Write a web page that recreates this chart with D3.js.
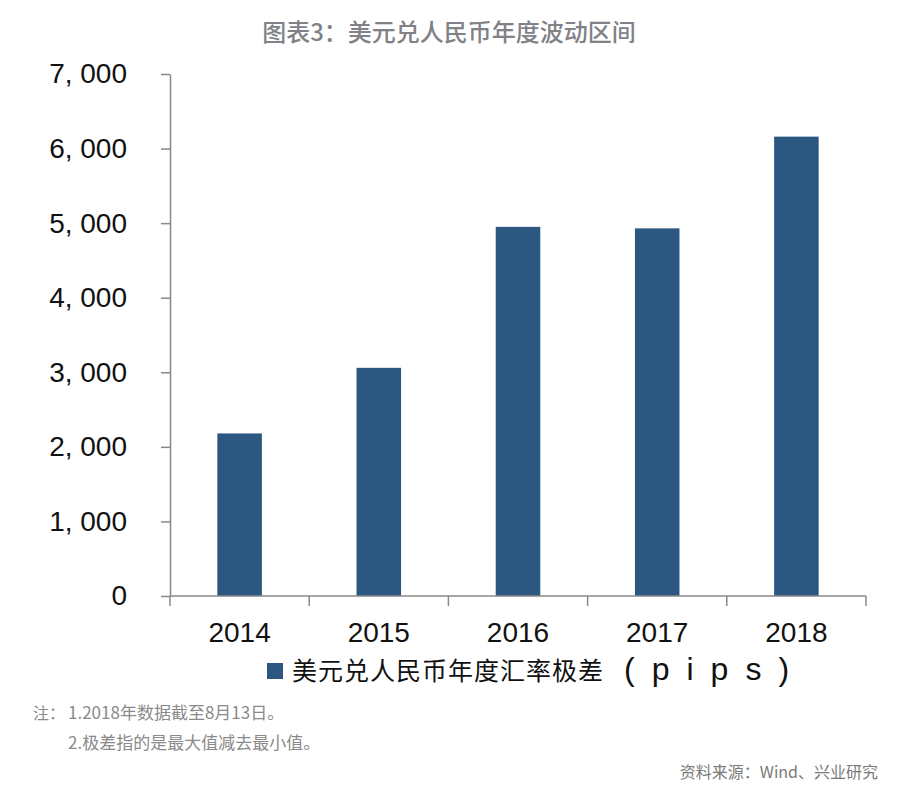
<!DOCTYPE html>
<html>
<head>
<meta charset="utf-8">
<script src="https://cdn.jsdelivr.net/npm/d3@7"></script>
<style>
  body { margin: 0; background: #fff; }
  svg { display: block; }
</style>
</head>
<body>
<div id="container"></div>
<script>
const years       = ["2014", "2015", "2016", "2017", "2018"];
const rangePips   = [2180, 3060, 4950, 4930, 6160];
const yTicks      = [0, 1000, 2000, 3000, 4000, 5000, 6000, 7000];
const yTickLabels = ["0", "1, 000", "2, 000", "3, 000", "4, 000", "5, 000", "6, 000", "7, 000"];
const titleText   = "图表3：美元兑人民币年度波动区间";
const legendText  = "美元兑人民币年度汇率极差";
const legendUnit  = "(pips)";
const notes       = ["注：", "1.2018年数据截至8月13日。", "2.极差指的是最大值减去最小值。"];
const sourceText  = "资料来源：Wind、兴业研究";

const width = 900, height = 793;
const margin = { top: 74, right: 34, bottom: 197, left: 170 };
const barColor  = "#2b5780";
const axisColor = "#888";
const sans = "'Liberation Sans', Arial, sans-serif";
const cjk  = "'Noto Sans CJK SC', 'Noto Sans', sans-serif";

const svg = d3.select("#container")
  .append("svg")
    .attr("width", width)
    .attr("height", height);

// x = one band per year, ticks at band edges
const x = d3.scaleBand()
  .domain(years)
  .range([margin.left, width - margin.right])
  .paddingInner(0.68)
  .paddingOuter(0.34);

const y = d3.scaleLinear()
  .domain([0, 7000])
  .range([height - margin.bottom, margin.top]);

// title
svg.append("text")
  .attr("x", 449)
  .attr("y", 41)
  .attr("text-anchor", "middle")
  .attr("font-family", cjk)
  .attr("font-size", 24)
  .attr("font-weight", 500)
  .attr("fill", "#808287")
  .text(titleText);

// bars
svg.append("g")
  .selectAll("rect")
  .data(years)
  .join("rect")
    .attr("x", d => x(d))
    .attr("y", (d, i) => y(rangePips[i]))
    .attr("width", x.bandwidth())
    .attr("height", (d, i) => y(0) - y(rangePips[i]))
    .attr("fill", barColor);

// y axis
const yAxis = svg.append("g")
  .attr("transform", `translate(${margin.left},0)`)
  .call(d3.axisLeft(y)
    .tickValues(yTicks)
    .tickFormat((d, i) => yTickLabels[i])
    .tickSize(9)
    .tickSizeOuter(0)
    .tickPadding(34));
yAxis.select(".domain").attr("stroke", axisColor).attr("stroke-width", 1.5);
yAxis.selectAll(".tick line").attr("stroke", axisColor).attr("stroke-width", 1.5);
yAxis.selectAll("text")
  .attr("font-family", sans)
  .attr("font-size", 28)
  .attr("fill", "#111");

// x axis: baseline, boundary ticks, year labels
const xg = svg.append("g");
const base = y(0);
const edges = years.map(d => x(d) - (x.step() - x.bandwidth()) / 2)
  .concat([width - margin.right]);

xg.append("line")
  .attr("x1", margin.left).attr("x2", width - margin.right)
  .attr("y1", base).attr("y2", base)
  .attr("stroke", axisColor).attr("stroke-width", 1.5);

xg.selectAll("line.edge")
  .data(edges)
  .join("line")
    .attr("class", "edge")
    .attr("x1", d => d).attr("x2", d => d)
    .attr("y1", base).attr("y2", base + 10)
    .attr("stroke", axisColor).attr("stroke-width", 1.5);

xg.selectAll("text")
  .data(years)
  .join("text")
    .attr("x", d => x(d) + x.bandwidth() / 2)
    .attr("y", base + 46)
    .attr("text-anchor", "middle")
    .attr("font-family", sans)
    .attr("font-size", 28)
    .attr("fill", "#111")
    .text(d => d);

// legend
const lg = svg.append("g").attr("transform", "translate(267,663)");
lg.append("rect")
  .attr("width", 16).attr("height", 16)
  .attr("fill", barColor);
const lt = lg.append("text")
  .attr("x", 25)
  .attr("y", 17)
  .attr("font-family", cjk)
  .attr("font-size", 25)
  .attr("fill", "#111")
  .attr("letter-spacing", 1);
lt.append("tspan").text(legendText);
lt.append("tspan")
  .attr("dx", 20)
  .attr("font-family", sans)
  .attr("font-size", 32)
  .attr("letter-spacing", 17)
  .text(legendUnit);

// notes
const noteColor = "#8a8a8a";
svg.append("text")
  .attr("x", 33).attr("y", 719)
  .attr("font-family", cjk).attr("font-size", 16)
  .attr("fill", noteColor)
  .text(notes[0]);
svg.selectAll("text.note")
  .data(notes.slice(1))
  .join("text")
    .attr("class", "note")
    .attr("x", 68)
    .attr("y", (d, i) => 719 + i * 30)
    .attr("font-family", cjk)
    .attr("font-size", 17)
    .attr("fill", noteColor)
    .text(d => d);

// source
svg.append("text")
  .attr("x", 878).attr("y", 778)
  .attr("text-anchor", "end")
  .attr("font-family", cjk)
  .attr("font-size", 16)
  .attr("fill", "#7a7a7a")
  .text(sourceText);
</script>
</body>
</html>
